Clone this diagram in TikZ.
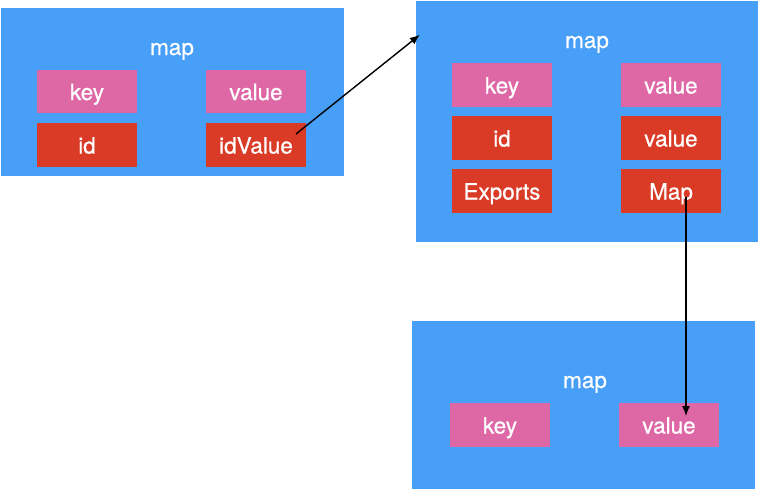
\documentclass[tikz,border=0pt]{standalone}
\usepackage{fontspec}
\setmainfont{TeX Gyre Heros}[FakeBold=0.6]
\usetikzlibrary{arrows.meta,calc}
\definecolor{mblue}{HTML}{489FF8}
\definecolor{mpink}{HTML}{DE68A6}
\definecolor{mred}{HTML}{DA3B26}
\tikzset{
  bigbox/.style={fill=mblue, draw=none, inner sep=0pt},
  txt/.style={text=white, font=\fontsize{22.5}{26}\selectfont, text height=17pt, text depth=0pt},
  cell/.style={txt, draw=none, inner sep=0pt, minimum width=100pt, minimum height=43.5pt},
  pinkcell/.style={cell, fill=mpink},
  redcell/.style={cell, fill=mred},
  title/.style={txt, inner sep=0pt},
  conn/.style={line width=1.4pt, -{Latex[length=10pt,width=8pt]}}
}
\begin{document}
\begin{tikzpicture}[x=1pt,y=-1pt]
\useasboundingbox (0,0) rectangle (760,490);
% box 1
\node[bigbox, minimum width=343pt, minimum height=168pt] (b1) at (172.5,92) {};
\node[title] (t1) at (172,46.5) {map};
\node[pinkcell] (k1) at (87,91.5) {key};
\node[pinkcell] (v1) at (256,91.5) {value};
\node[redcell] (i1) at (87,145) {id};
\node[redcell] (iv1) at (256,145) {idValue};
% box 2
\node[bigbox, minimum width=342pt, minimum height=241pt] (b2) at (587,121.5) {};
\node[title] (t2) at (587,39.5) {map};
\node[pinkcell] (k2) at (502,85) {key};
\node[pinkcell] (v2) at (671,85) {value};
\node[redcell] (i2) at (502,138) {id};
\node[redcell] (v2b) at (671,138) {value};
\node[redcell] (e2) at (502,191) {Exports};
\node[redcell] (m2) at (671,191) {Map};
% box 3
\node[bigbox, minimum width=343pt, minimum height=168pt] (b3) at (583.5,405) {};
\node[title] (t3) at (585,379.5) {map};
\node[pinkcell] (k3) at (500,425) {key};
\node[pinkcell] (v3) at (669,425) {value};
% connectors
\coordinate (a1s) at ($(iv1.center)+(40,-11)$);
\coordinate (a1e) at ($(b2.north west)+(4,34)$);
\draw[conn] (a1s) -- (a1e);
\coordinate (a2s) at ($(m2.center)+(15,6)$);
\coordinate (a2e) at ($(v3.center)+(17,-9)$);
\draw[conn] (a2s) -- (a2e);
\end{tikzpicture}
\end{document}
